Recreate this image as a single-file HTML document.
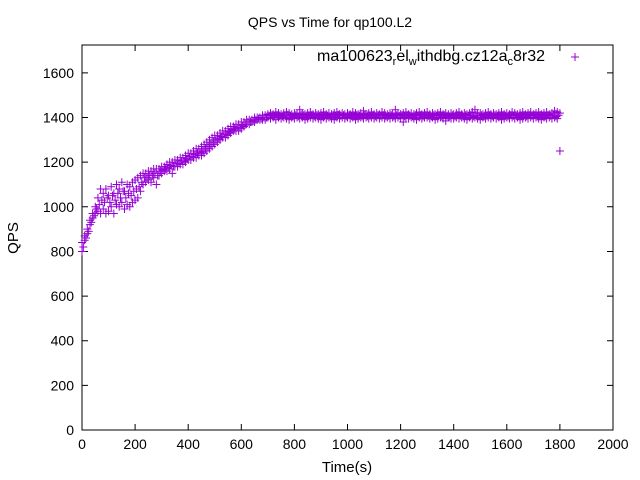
<!DOCTYPE html>
<html><head><meta charset="utf-8"><style>
html,body{margin:0;padding:0;background:#fff}
svg{display:block;font-family:"Liberation Sans",sans-serif}
</style></head><body>
<svg id="chart" width="640" height="480">
<rect width="640" height="480" fill="#fff"/>
<text x="330" y="27" text-anchor="middle" font-size="14">QPS vs Time for qp100.L2</text>
<text x="18" y="238" text-anchor="middle" font-size="15" transform="rotate(-90 18 238)">QPS</text>
<text x="347" y="472" text-anchor="middle" font-size="15">Time(s)</text>
<g id="axes"></g>
<g id="marks"></g>
<g>
<text x="545" y="61" text-anchor="end" font-size="16">ma100623<tspan dy="4" font-size="11">r</tspan><tspan dy="-4">el</tspan><tspan dy="4" font-size="11">w</tspan><tspan dy="-4">ithdbg.cz12a</tspan><tspan dy="4" font-size="11">c</tspan><tspan dy="-4">8r32</tspan></text>
<path d="M571 57h8M575 53v8" stroke="#9400d3" stroke-width="1"/>
</g>
</svg>
<script>
const xTicks=[0,200,400,600,800,1000,1200,1400,1600,1800,2000];
const yTicks=[0,200,400,600,800,1000,1200,1400,1600];
const times=[];for(let i=0;i<=180;i++)times.push(i*10);
const qpsUpper=[840,870,900,940,970,1000,1040,1080,1060,1080,
1050,1090,1060,1100,1080,1110,1070,1100,1090,1110,
1120,1130,1140,1150,1150,1160,1160,1170,1170,1170,
1180,1180,1190,1200,1200,1210,1210,1220,1220,1230,
1240,1240,1250,1260,1260,1270,1280,1290,1300,1310,
1320,1320,1330,1340,1340,1350,1360,1360,1370,1370,
1380,1380,1390,1390,1390,1400,1400,1400,1410,1410,
1415,1420,1415,1425,1420,1415,1420,1425,1420,1415,
1420,1415,1435,1420,1415,1420,1425,1415,1420,1415,
1420,1425,1415,1420,1415,1420,1425,1415,1420,1415,
1420,1415,1425,1420,1415,1420,1430,1415,1420,1425,
1415,1420,1415,1425,1420,1415,1420,1415,1435,1420,
1415,1420,1425,1415,1420,1415,1420,1425,1415,1420,
1425,1415,1420,1415,1420,1425,1415,1420,1415,1420,
1415,1420,1425,1415,1420,1415,1420,1425,1435,1420,
1420,1415,1420,1425,1415,1420,1415,1420,1425,1415,
1420,1415,1425,1420,1415,1420,1425,1415,1420,1425,
1415,1420,1425,1415,1420,1425,1415,1420,1430,1425,
1420];
const qpsMid=[820,860,890,930,960,990,1010,1030,1020,1040,
1020,1050,1030,1060,1040,1070,1040,1060,1050,1070,
1080,1090,1110,1130,1130,1140,1140,1150,1140,1160,
1165,1170,1175,1185,1180,1195,1195,1205,1205,1215,
1225,1225,1235,1240,1245,1250,1260,1270,1280,1290,
1300,1305,1315,1325,1325,1335,1345,1350,1355,1355,
1365,1370,1380,1380,1385,1390,1395,1395,1400,1400,
1408,1410,1405,1410,1408,1405,1410,1412,1408,1405,
1410,1405,1412,1410,1405,1408,1410,1405,1410,1408,
1405,1410,1408,1405,1410,1405,1412,1408,1410,1405,
1410,1408,1405,1410,1408,1405,1410,1405,1408,1410,
1405,1410,1408,1410,1405,1408,1410,1405,1410,1408,
1410,1405,1410,1408,1405,1410,1408,1410,1405,1410,
1408,1405,1410,1408,1410,1405,1410,1408,1405,1410,
1405,1410,1408,1405,1410,1408,1410,1405,1410,1408,
1410,1405,1408,1410,1405,1410,1408,1405,1410,1408,
1405,1410,1408,1410,1405,1408,1410,1405,1410,1408,
1410,1405,1410,1408,1405,1410,1408,1410,1405,1410,
1410];
const qpsLower=[800,850,880,920,950,970,980,970,990,970,
980,1000,970,1010,1000,1020,990,1010,1000,1020,
1030,1040,1070,1100,1110,1120,1110,1130,1100,1140,
1150,1160,1160,1170,1150,1180,1180,1190,1190,1200,
1210,1210,1220,1220,1230,1230,1240,1250,1260,1270,
1280,1290,1300,1310,1310,1320,1330,1340,1340,1340,
1350,1360,1370,1370,1380,1380,1390,1390,1390,1390,
1400,1395,1400,1390,1400,1395,1400,1395,1390,1400,
1395,1400,1395,1400,1390,1395,1400,1395,1400,1395,
1390,1400,1395,1400,1395,1390,1400,1395,1400,1395,
1400,1395,1400,1390,1395,1400,1395,1400,1395,1400,
1395,1400,1395,1400,1395,1400,1395,1400,1395,1400,
1395,1380,1400,1395,1400,1395,1390,1400,1395,1400,
1400,1395,1400,1390,1395,1400,1395,1385,1400,1395,
1395,1400,1395,1400,1395,1390,1400,1395,1400,1395,
1390,1400,1395,1400,1395,1400,1395,1400,1390,1395,
1400,1395,1400,1395,1400,1390,1395,1400,1395,1400,
1395,1400,1395,1390,1400,1395,1400,1395,1400,1395,
1250];
const L=82,R=613,T=45,B=430,XMAX=2000,YMAX=1725;
const xs=v=>L+(R-L)*v/XMAX;
const ys=v=>B-(B-T)*v/YMAX;
const NS="http://www.w3.org/2000/svg";
const axes=document.getElementById('axes');
const marks=document.getElementById('marks');
function mk(tag,attrs,parent){const e=document.createElementNS(NS,tag);for(const k in attrs)e.setAttribute(k,attrs[k]);parent.appendChild(e);return e;}
const frame=mk('rect',{x:L,y:T,width:R-L,height:B-T,fill:'none',stroke:'#000','stroke-width':1},axes);


xTicks.forEach(v=>{const x=xs(v);
 const p=mk('path',{d:`M${x} ${B}v-6M${x} ${T}v6`,stroke:'#000','stroke-width':1},axes);
 
 
 const t=mk('text',{x:x,y:B+19,'text-anchor':'middle','font-size':14},axes);t.textContent=v;
 
 
});
yTicks.forEach(v=>{const y=ys(v);
 const p=mk('path',{d:`M${L} ${y}h6M${R} ${y}h-6`,stroke:'#000','stroke-width':1},axes);
 
 
 const t=mk('text',{x:L-8,y:y+5,'text-anchor':'end','font-size':14},axes);t.textContent=v;
 
 
});
let d='';
[qpsUpper,qpsLower].forEach(arr=>{arr.forEach((v,i)=>{const x=xs(times[i]),y=ys(v);d+=`M${x-4} ${y}h8M${x} ${y-4}v8`;});});
qpsMid.forEach((v,i)=>{if(i>=180)return;const x=xs(times[i]+5),y=ys(v);d+=`M${x-4} ${y}h8M${x} ${y-4}v8`;});
const pts=mk('path',{d:d,stroke:'#9400d3','stroke-width':1,fill:'none'},marks);


</script>
</body></html>
